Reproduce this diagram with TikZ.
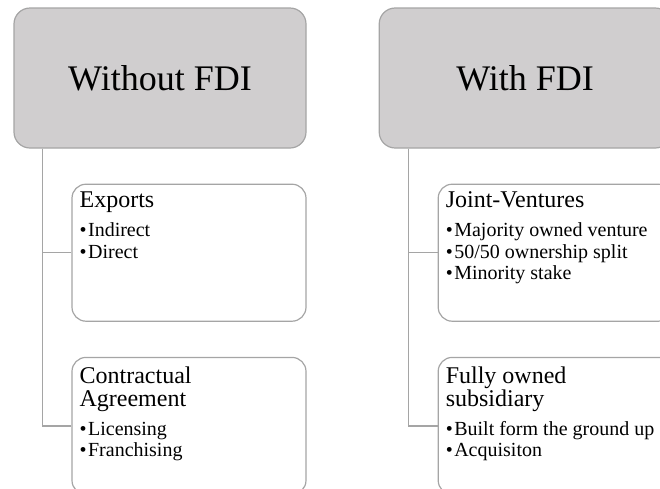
\documentclass[tikz,border=0pt]{standalone}
\usepackage{fontspec}
\setmainfont{Liberation Serif}
\usepackage{xcolor}
\usetikzlibrary{positioning}
\definecolor{headgray}{RGB}{208,206,207}
\definecolor{edgegray}{RGB}{165,165,165}
\newcommand{\branchtext}[2]{\parbox[t]{225pt}{\raggedright\fontsize{24}{22.5}\selectfont #1\par\vspace{7.5pt}\fontsize{20}{21.5}\selectfont #2}}
\newcommand{\bul}{•\kern1.5pt}

\begin{document}
\begin{tikzpicture}[x=1pt, y=1pt,
        head/.style={rectangle, draw=edgegray, line width=1.2pt, rounded corners=16pt, fill=headgray, minimum width=292pt, minimum height=140pt, font=\fontsize{36}{40}\selectfont},
        branch/.style={rectangle, draw=edgegray, line width=1.2pt, rounded corners=14pt, fill=white, minimum width=234pt, minimum height=137pt},
        boxtext/.style={anchor=base west, inner sep=0pt},
        link/.style={draw=edgegray, line width=1.2pt},
        node distance=35pt and 72pt
    ]
        \path[use as bounding box, clip] (0,0) rectangle (660,-488);

        \node[head] (nofdi) at (160,-78) {Without FDI};
        \node[head, right=of nofdi] (fdi) {With FDI};
        \node[branch, below right=35pt and 58pt of nofdi.south west] (exports) {};
        \node[branch, below=of exports] (contract) {};
        \node[branch, below right=35pt and 59pt of fdi.south west] (joint) {};
        \node[branch, below=of joint] (owned) {};

        \node[boxtext] (exports-text) at ([shift={(8,-24)}]exports.north west) {\branchtext{Exports}{\bul Indirect\\\bul Direct}};
        \node[boxtext] (contract-text) at ([shift={(8,-27)}]contract.north west) {\branchtext{Contractual\\Agreement}{\bul Licensing\\\bul Franchising}};
        \node[boxtext] (joint-text) at ([shift={(8,-24)}]joint.north west) {\branchtext{Joint-Ventures}{\bul Majority owned venture\\\bul 50/50 ownership split\\\bul Minority stake}};
        \node[boxtext] (owned-text) at ([shift={(8,-27)}]owned.north west) {\branchtext{Fully owned\\subsidiary}{\bul Built form the ground up\\\bul Acquisiton}};

        \coordinate[right=29pt of nofdi.south west] (nofdi-trunk);
        \coordinate[right=30pt of fdi.south west] (fdi-trunk);

        \draw[link] (nofdi-trunk) |- (exports.west);
        \draw[link] (nofdi-trunk) |- (contract.west);
        \draw[link] (fdi-trunk) |- (joint.west);
        \draw[link] (fdi-trunk) |- (owned.west);
    \end{tikzpicture}
\end{document}
